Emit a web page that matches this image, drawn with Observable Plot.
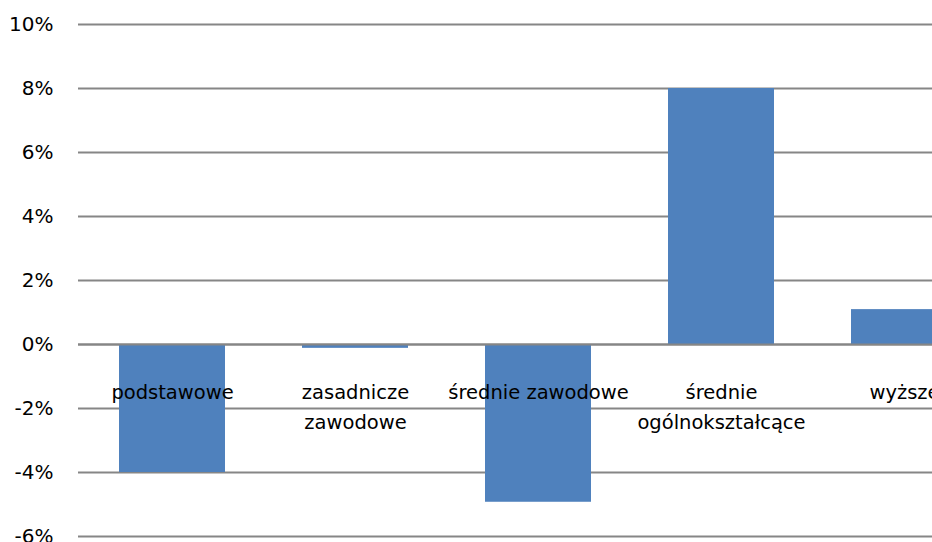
<!DOCTYPE html>
<html><head><meta charset="utf-8">
<script src="https://cdn.jsdelivr.net/npm/d3@7"></script>
<script src="https://cdn.jsdelivr.net/npm/@observablehq/plot@0.6"></script>
<style>
body{margin:0;background:#fff;overflow:hidden}
#chart svg{overflow:hidden;display:block}
</style>
</head><body><div id="chart"></div>
<script>
const categories = ["podstawowe", "zasadnicze zawodowe", "średnie zawodowe", "średnie ogólnokształcące", "wyższe"];
const labels = ["podstawowe", "zasadnicze\nzawodowe", "średnie zawodowe", "średnie\nogólnokształcące", "wyższe"];
const values = [-0.040, -0.0012, -0.0493, 0.080, 0.0109];
const yTicks = [-0.06, -0.04, -0.02, 0, 0.02, 0.04, 0.06, 0.08, 0.10];

const data = categories.map((c, i) => ({category: c, label: labels[i], value: values[i]}));
const fmt = d => Math.round(d * 100) + "%";

const chart = Plot.plot({
  width: 932,
  height: 542,
  marginLeft: 78,
  marginRight: 0,
  marginTop: 24,
  marginBottom: 6,
  style: {fontFamily: "DejaVu Sans", fontSize: "20px", color: "#000", background: "#fff"},
  x: {type: "band", domain: categories, range: [79.3, 996.8], paddingInner: 0.422, paddingOuter: 0.211, axis: null},
  y: {domain: [-0.06, 0.10], range: [536, 24]},
  marks: [
    Plot.ruleY(yTicks, {stroke: "#868686", strokeWidth: 2}),
    Plot.barY(data, {x: "category", y: "value", fill: "#4F81BD", inset: 0}),
    Plot.ruleY([0], {stroke: "#868686", strokeWidth: 2}),
    Plot.axisY({ticks: yTicks, tickSize: 0, tickPadding: 25, tickFormat: fmt, label: null, fontSize: 20, fill: "#000"}),
    Plot.text(data, {x: "category", y: () => 0, text: "label", lineAnchor: "top", dy: 33, lineHeight: 1.55, fontSize: 19.5, fill: "#000", textAnchor: "middle"})
  ]
});
document.getElementById("chart").appendChild(chart);
</script>
</body></html>
